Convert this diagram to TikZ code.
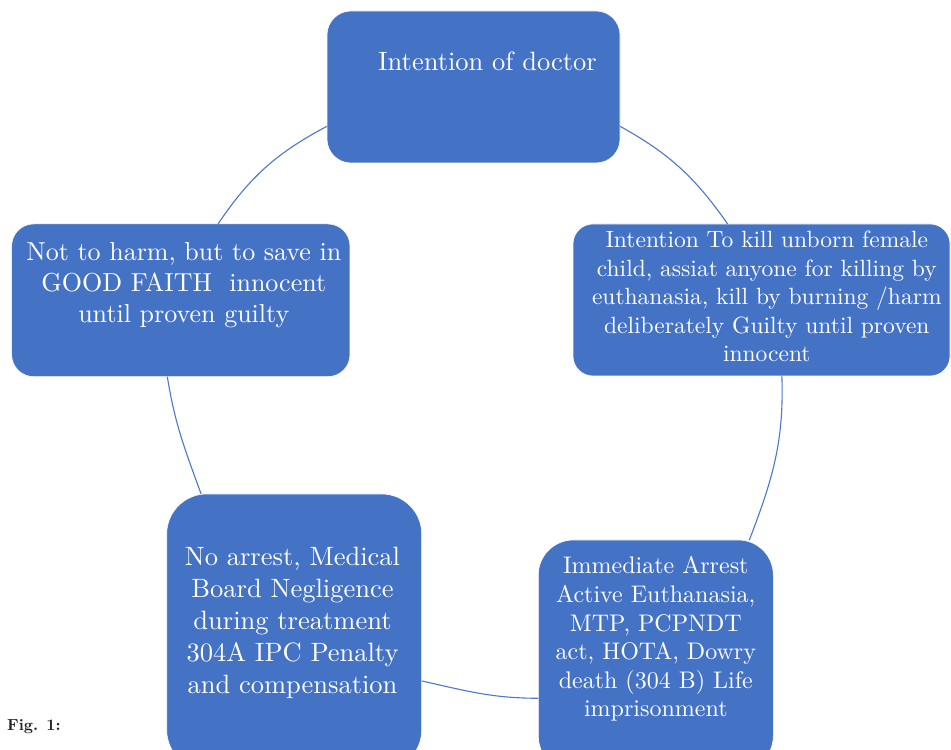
\documentclass[tikz,border=0pt]{standalone}
\usepackage{fontspec}
\setmainfont{lmroman10-regular.otf}[BoldFont=lmroman10-bold.otf]
\definecolor{boxblue}{HTML}{4472C4}
\definecolor{linkblue}{HTML}{4A78CC}
\definecolor{figgrey}{HTML}{231F20}
% #1 width, #2 height, #3 first baseline from top, #4 horizontal shift (x2), #5 font, #6 lines
\newcommand{\boxtxt}[6]{\parbox[c][#2][t]{#1}{\centering#5\rule{0pt}{#3}\hspace*{#4}\makebox[0pt]{\begin{tabular}[t]{@{}c@{}}#6\end{tabular}}}}
\tikzset{
  cyclebox/.style={rounded corners=#1, fill=boxblue, draw=white, line width=0.6pt, inner sep=0pt, outer sep=0pt, text=white},
  link/.style={draw=linkblue, line width=1.1pt}
}
\begin{document}
\begin{tikzpicture}[x=1pt,y=1pt]
\useasboundingbox (0,0) rectangle (951,750);
\clip (0,0) rectangle (951,750);
\fill[white] (0,0) rectangle (951,750);

\node[cyclebox=24] (top) at (473.5,663)
  {\boxtxt{293pt}{152pt}{60pt}{28pt}{\fontsize{26.5}{31}\selectfont}{Intention of doctor}};
\node[cyclebox=20] (right) at (761.5,450)
  {\boxtxt{377pt}{152pt}{23.7pt}{10.6pt}{\fontsize{23.5}{28.5}\selectfont}{Intention To kill unborn female\\ child, assiat anyone for killing by\\ euthanasia, kill by burning /harm\\ deliberately Guilty until proven\\ innocent}};
\node[cyclebox=22] (left) at (180.8,449.7)
  {\boxtxt{338.3pt}{152.7pt}{37pt}{6pt}{\fontsize{26}{31}\selectfont}{Not to harm, but to save in\\ GOOD FAITH\ \ innocent\\ until proven guilty}};
\node[cyclebox=40] (bl) at (294.2,118)
  {\boxtxt{255pt}{276pt}{72pt}{-3.4pt}{\fontsize{26.5}{31.8}\selectfont}{No arrest, Medical\\ Board Negligence\\ during treatment\\ 304A IPC Penalty\\ and compensation}};
\node[cyclebox=35] (br) at (655.8,94.5)
  {\boxtxt{235pt}{231pt}{34pt}{0pt}{\fontsize{24}{28.6}\selectfont}{Immediate Arrest\\ Active Euthanasia,\\ MTP, PCPNDT\\ act, HOTA, Dowry\\ death (304 B) Life\\ imprisonment}};

\draw[link] (top.-15) to[out=-29,in=125] (right.114);
\draw[link] (right.-75) to[out=-88,in=69] (br.51.4);
\draw[link] (br.200.3) to[out=180,in=-12.6] (bl.-21.8);
\draw[link] (bl.124) to[out=110,in=-81] (left.-100.3);
\draw[link] (left.64) to[out=56,in=-152] (top.195);

\node[anchor=base west, inner sep=0pt, text=figgrey, font=\bfseries\fontsize{16}{20}\selectfont] (fig) at (7,19) {Fig. 1:};
\end{tikzpicture}
\end{document}
